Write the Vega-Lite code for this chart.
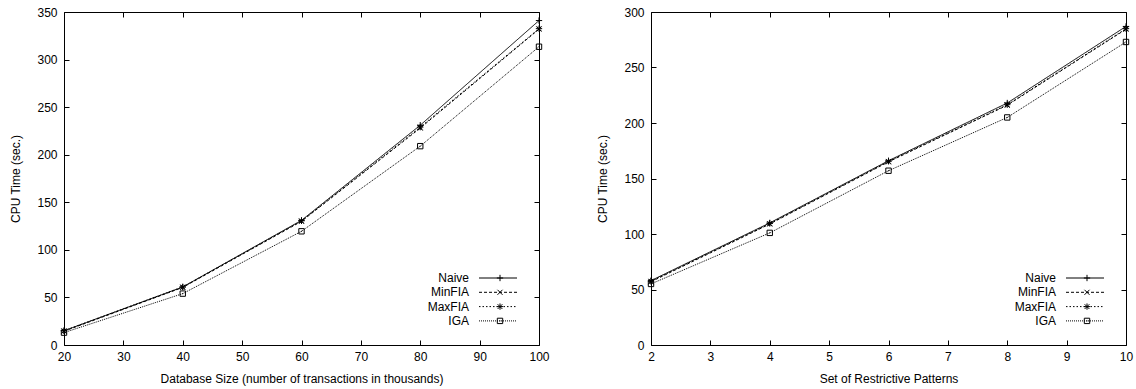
{
  "$schema": "https://vega.github.io/schema/vega-lite/v6.json",
  "padding": {"left": 9, "top": 5, "right": 5, "bottom": 2},
  "spacing": 46,
  "resolve": {"scale": {"strokeDash": "independent", "shape": "independent"}, "legend": {"strokeDash": "independent", "shape": "independent"}},
  "config": {
    "font": "Liberation Sans",
    "view": {"stroke": "black", "strokeWidth": 1},
    "axis": {
      "grid": false, "domain": false, "tickColor": "black", "tickSize": -5, "tickWidth": 1,
      "labelFont": "Liberation Sans", "labelFontSize": 12, "labelColor": "black", "labelFlush": false,
      "titleFont": "Liberation Sans", "titleFontSize": 12, "titleFontWeight": "normal", "titleColor": "black"
    },
    "axisX": {"labelPadding": 11, "titlePadding": 11},
    "axisY": {"labelPadding": 12, "titlePadding": 14}
  },
  "datasets": {
    "db": [
      {"size": 20, "algo": "Naive", "time": 15}, {"size": 20, "algo": "MinFIA", "time": 14.5}, {"size": 20, "algo": "MaxFIA", "time": 15}, {"size": 20, "algo": "IGA", "time": 13},
      {"size": 40, "algo": "Naive", "time": 61}, {"size": 40, "algo": "MinFIA", "time": 60.5}, {"size": 40, "algo": "MaxFIA", "time": 61}, {"size": 40, "algo": "IGA", "time": 54},
      {"size": 60, "algo": "Naive", "time": 131}, {"size": 60, "algo": "MinFIA", "time": 130}, {"size": 60, "algo": "MaxFIA", "time": 130.5}, {"size": 60, "algo": "IGA", "time": 119.5},
      {"size": 80, "algo": "Naive", "time": 231}, {"size": 80, "algo": "MinFIA", "time": 228}, {"size": 80, "algo": "MaxFIA", "time": 229}, {"size": 80, "algo": "IGA", "time": 209},
      {"size": 100, "algo": "Naive", "time": 341}, {"size": 100, "algo": "MinFIA", "time": 332}, {"size": 100, "algo": "MaxFIA", "time": 332.5}, {"size": 100, "algo": "IGA", "time": 313.5}
    ],
    "rp": [
      {"patterns": 2, "algo": "Naive", "time": 58}, {"patterns": 2, "algo": "MinFIA", "time": 57}, {"patterns": 2, "algo": "MaxFIA", "time": 57.5}, {"patterns": 2, "algo": "IGA", "time": 55},
      {"patterns": 4, "algo": "Naive", "time": 110}, {"patterns": 4, "algo": "MinFIA", "time": 109}, {"patterns": 4, "algo": "MaxFIA", "time": 109.5}, {"patterns": 4, "algo": "IGA", "time": 101},
      {"patterns": 6, "algo": "Naive", "time": 166}, {"patterns": 6, "algo": "MinFIA", "time": 165}, {"patterns": 6, "algo": "MaxFIA", "time": 165.5}, {"patterns": 6, "algo": "IGA", "time": 157},
      {"patterns": 8, "algo": "Naive", "time": 218}, {"patterns": 8, "algo": "MinFIA", "time": 216}, {"patterns": 8, "algo": "MaxFIA", "time": 216.5}, {"patterns": 8, "algo": "IGA", "time": 205},
      {"patterns": 10, "algo": "Naive", "time": 287}, {"patterns": 10, "algo": "MinFIA", "time": 284.5}, {"patterns": 10, "algo": "MaxFIA", "time": 285}, {"patterns": 10, "algo": "IGA", "time": 273}
    ]
  },
  "hconcat": [
    {
      "width": 475, "height": 333,
      "data": {"name": "db"},
      "resolve": {"axis": {"x": "independent", "y": "independent"}},
      "layer": [
        {
          "mark": {"type": "line", "color": "black", "strokeWidth": 1},
          "encoding": {
            "x": {"field": "size", "type": "quantitative", "scale": {"domain": [20, 100], "nice": false}, "axis": {"orient": "bottom", "values": [20, 30, 40, 50, 60, 70, 80, 90, 100], "title": "Database Size (number of transactions in thousands)"}},
            "y": {"field": "time", "type": "quantitative", "scale": {"domain": [0, 350], "nice": false}, "axis": {"orient": "left", "values": [0, 50, 100, 150, 200, 250, 300, 350], "title": "CPU Time (sec.)"}},
            "strokeDash": {"field": "algo", "type": "nominal", "scale": {"domain": ["Naive", "MinFIA", "MaxFIA", "IGA"], "range": [[1, 0], [3, 2], [1.5, 2], [1, 1]]},
              "legend": {"title": null, "orient": "none", "legendX": 355, "legendY": 260, "symbolType": "stroke", "symbolSize": 1444, "symbolStrokeColor": "black", "symbolStrokeWidth": 1, "labelFontSize": 12, "labelFont": "Liberation Sans", "labelColor": "black", "rowPadding": 2.3, "padding": 0,
                "encode": {"entries": {"update": {"width": {"value": 100}, "height": {"value": 12}}}, "labels": {"update": {"x": {"value": 50}, "y": {"value": 6}, "align": {"value": "right"}, "baseline": {"value": "middle"}}}, "symbols": {"update": {"x": {"value": 79}, "y": {"value": 6}}}}}}
          }
        },
        {
          "mark": {"type": "point", "filled": false, "color": "black", "strokeWidth": 1, "size": 40, "opacity": 1},
          "encoding": {
            "x": {"field": "size", "type": "quantitative", "axis": {"orient": "top", "values": [20, 30, 40, 50, 60, 70, 80, 90, 100], "labels": false, "title": null}},
            "y": {"field": "time", "type": "quantitative", "axis": {"orient": "right", "values": [0, 50, 100, 150, 200, 250, 300, 350], "labels": false, "title": null}},
            "shape": {"field": "algo", "type": "nominal", "sort": ["Naive", "MinFIA", "MaxFIA", "IGA"], "scale": {"range": ["M-1,0L1,0M0,-1L0,1", "M-0.8,-0.8L0.8,0.8M-0.8,0.8L0.8,-0.8", "M-1,0L1,0M0,-1L0,1M-0.75,-0.75L0.75,0.75M-0.75,0.75L0.75,-0.75", "M-0.85,-0.85L0.85,-0.85L0.85,0.85L-0.85,0.85ZM-0.15,0L0.15,0"]},
              "legend": {"title": null, "orient": "none", "legendX": 430, "legendY": 260, "symbolSize": 40, "symbolStrokeColor": "black", "symbolFillColor": "transparent", "symbolStrokeWidth": 1, "labelFontSize": 12, "labelFont": "Liberation Sans", "labelOpacity": 0, "labelExpr": "' '", "rowPadding": 2.3, "padding": 0}}
          }
        }
      ]
    },
    {
      "width": 475, "height": 333,
      "data": {"name": "rp"},
      "resolve": {"axis": {"x": "independent", "y": "independent"}},
      "layer": [
        {
          "mark": {"type": "line", "color": "black", "strokeWidth": 1},
          "encoding": {
            "x": {"field": "patterns", "type": "quantitative", "scale": {"domain": [2, 10], "nice": false}, "axis": {"orient": "bottom", "values": [2, 3, 4, 5, 6, 7, 8, 9, 10], "title": "Set of Restrictive Patterns"}},
            "y": {"field": "time", "type": "quantitative", "scale": {"domain": [0, 300], "nice": false}, "axis": {"orient": "left", "values": [0, 50, 100, 150, 200, 250, 300], "title": "CPU Time (sec.)"}},
            "strokeDash": {"field": "algo", "type": "nominal", "scale": {"domain": ["Naive", "MinFIA", "MaxFIA", "IGA"], "range": [[1, 0], [3, 2], [1.5, 2], [1, 1]]},
              "legend": {"title": null, "orient": "none", "legendX": 355, "legendY": 260, "symbolType": "stroke", "symbolSize": 1444, "symbolStrokeColor": "black", "symbolStrokeWidth": 1, "labelFontSize": 12, "labelFont": "Liberation Sans", "labelColor": "black", "rowPadding": 2.3, "padding": 0,
                "encode": {"entries": {"update": {"width": {"value": 100}, "height": {"value": 12}}}, "labels": {"update": {"x": {"value": 50}, "y": {"value": 6}, "align": {"value": "right"}, "baseline": {"value": "middle"}}}, "symbols": {"update": {"x": {"value": 79}, "y": {"value": 6}}}}}}
          }
        },
        {
          "mark": {"type": "point", "filled": false, "color": "black", "strokeWidth": 1, "size": 40, "opacity": 1},
          "encoding": {
            "x": {"field": "patterns", "type": "quantitative", "axis": {"orient": "top", "values": [2, 3, 4, 5, 6, 7, 8, 9, 10], "labels": false, "title": null}},
            "y": {"field": "time", "type": "quantitative", "axis": {"orient": "right", "values": [0, 50, 100, 150, 200, 250, 300], "labels": false, "title": null}},
            "shape": {"field": "algo", "type": "nominal", "sort": ["Naive", "MinFIA", "MaxFIA", "IGA"], "scale": {"range": ["M-1,0L1,0M0,-1L0,1", "M-0.8,-0.8L0.8,0.8M-0.8,0.8L0.8,-0.8", "M-1,0L1,0M0,-1L0,1M-0.75,-0.75L0.75,0.75M-0.75,0.75L0.75,-0.75", "M-0.85,-0.85L0.85,-0.85L0.85,0.85L-0.85,0.85ZM-0.15,0L0.15,0"]},
              "legend": {"title": null, "orient": "none", "legendX": 430, "legendY": 260, "symbolSize": 40, "symbolStrokeColor": "black", "symbolFillColor": "transparent", "symbolStrokeWidth": 1, "labelFontSize": 12, "labelFont": "Liberation Sans", "labelOpacity": 0, "labelExpr": "' '", "rowPadding": 2.3, "padding": 0}}
          }
        }
      ]
    }
  ]
}
